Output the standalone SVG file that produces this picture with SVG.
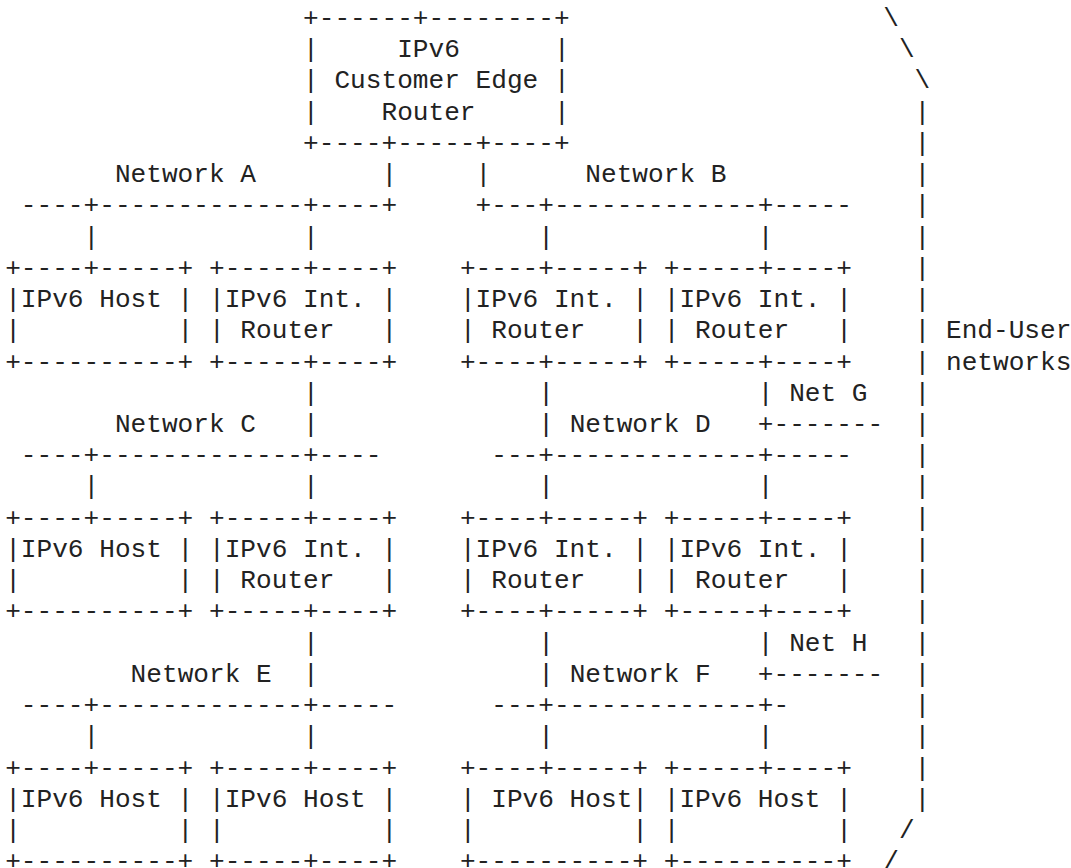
<svg xmlns="http://www.w3.org/2000/svg" width="1071" height="868" viewBox="0 0 1071 868" xml:space="preserve">
  <style>
    text { font-family: "Liberation Mono", "DejaVu Sans Mono", monospace; font-size: 26.13px; fill: #222; white-space: pre; }
  </style>
  <rect width="1071" height="868" fill="#fff"/>

  <!-- Customer edge router -->
  <g id="ce-router">
    <text><tspan x="303.08" y="26">+------+--------+</tspan><tspan x="303.08" y="57.23">|     IPv6      |</tspan><tspan x="303.08" y="88.46">| Customer Edge |</tspan><tspan x="303.08" y="119.69">|    Router     |</tspan><tspan x="303.08" y="150.92">+----+-----+----+</tspan></text>
  </g>

  <!-- Tier 1: networks A and B -->
  <g id="host-a">
    <text><tspan x="5.16" y="275.84">+----+-----+</tspan><tspan x="5.16" y="307.07">|IPv6 Host |</tspan><tspan x="5.16" y="338.3">|          |</tspan><tspan x="5.16" y="369.53">+----------+</tspan></text>
  </g>
  <g id="router-a">
    <text><tspan x="209" y="275.84">+-----+----+</tspan><tspan x="209" y="307.07">|IPv6 Int. |</tspan><tspan x="209" y="338.3">| Router   |</tspan><tspan x="209" y="369.53">+-----+----+</tspan></text>
  </g>
  <g id="router-b1">
    <text><tspan x="459.88" y="275.84">+----+-----+</tspan><tspan x="459.88" y="307.07">|IPv6 Int. |</tspan><tspan x="459.88" y="338.3">| Router   |</tspan><tspan x="459.88" y="369.53">+----+-----+</tspan></text>
  </g>
  <g id="router-b2">
    <text><tspan x="663.72" y="275.84">+-----+----+</tspan><tspan x="663.72" y="307.07">|IPv6 Int. |</tspan><tspan x="663.72" y="338.3">| Router   |</tspan><tspan x="663.72" y="369.53">+-----+----+</tspan></text>
  </g>

  <!-- Tier 2: networks C and D -->
  <g id="host-c">
    <text><tspan x="5.16" y="525.68">+----+-----+</tspan><tspan x="5.16" y="556.91">|IPv6 Host |</tspan><tspan x="5.16" y="588.14">|          |</tspan><tspan x="5.16" y="619.37">+----------+</tspan></text>
  </g>
  <g id="router-c">
    <text><tspan x="209" y="525.68">+-----+----+</tspan><tspan x="209" y="556.91">|IPv6 Int. |</tspan><tspan x="209" y="588.14">| Router   |</tspan><tspan x="209" y="619.37">+-----+----+</tspan></text>
  </g>
  <g id="router-d1">
    <text><tspan x="459.88" y="525.68">+----+-----+</tspan><tspan x="459.88" y="556.91">|IPv6 Int. |</tspan><tspan x="459.88" y="588.14">| Router   |</tspan><tspan x="459.88" y="619.37">+----+-----+</tspan></text>
  </g>
  <g id="router-d2">
    <text><tspan x="663.72" y="525.68">+-----+----+</tspan><tspan x="663.72" y="556.91">|IPv6 Int. |</tspan><tspan x="663.72" y="588.14">| Router   |</tspan><tspan x="663.72" y="619.37">+-----+----+</tspan></text>
  </g>

  <!-- Tier 3: networks E and F -->
  <g id="host-e1">
    <text><tspan x="5.16" y="775.52">+----+-----+</tspan><tspan x="5.16" y="806.75">|IPv6 Host |</tspan><tspan x="5.16" y="837.98">|          |</tspan><tspan x="5.16" y="869.21">+----------+</tspan></text>
  </g>
  <g id="host-e2">
    <text><tspan x="209" y="775.52">+-----+----+</tspan><tspan x="209" y="806.75">|IPv6 Host |</tspan><tspan x="209" y="837.98">|          |</tspan><tspan x="209" y="869.21">+-----+----+</tspan></text>
  </g>
  <g id="host-f1">
    <text><tspan x="459.88" y="775.52">+----+-----+</tspan><tspan x="459.88" y="806.75">| IPv6 Host|</tspan><tspan x="459.88" y="837.98">|          |</tspan><tspan x="459.88" y="869.21">+----------+</tspan></text>
  </g>
  <g id="host-f2">
    <text><tspan x="663.72" y="775.52">+-----+----+</tspan><tspan x="663.72" y="806.75">|IPv6 Host |</tspan><tspan x="663.72" y="837.98">|          |</tspan><tspan x="663.72" y="869.21">+----------+</tspan></text>
  </g>

  <!-- Links and network segments -->
  <g id="connectors">
    <text>
      <tspan x="381.48" y="182.15">|</tspan><tspan x="475.56" y="182.15">|</tspan>
      <tspan x="20.84" y="213.38">----+-------------+----+</tspan><tspan x="475.56" y="213.38">+---+-------------+-----</tspan>
      <tspan x="83.56" y="244.61">|</tspan><tspan x="303.08" y="244.61">|</tspan><tspan x="538.28" y="244.61">|</tspan><tspan x="757.8" y="244.61">|</tspan>

      <tspan x="303.08" y="400.76">|</tspan><tspan x="538.28" y="400.76">|</tspan><tspan x="757.8" y="400.76">|</tspan>
      <tspan x="303.08" y="431.99">|</tspan><tspan x="538.28" y="431.99">|</tspan><tspan x="757.8" y="431.99">+-------</tspan>
      <tspan x="20.84" y="463.22">----+-------------+----</tspan><tspan x="491.24" y="463.22">---+-------------+-----</tspan>
      <tspan x="83.56" y="494.45">|</tspan><tspan x="303.08" y="494.45">|</tspan><tspan x="538.28" y="494.45">|</tspan><tspan x="757.8" y="494.45">|</tspan>

      <tspan x="303.08" y="650.6">|</tspan><tspan x="538.28" y="650.6">|</tspan><tspan x="757.8" y="650.6">|</tspan>
      <tspan x="303.08" y="681.83">|</tspan><tspan x="538.28" y="681.83">|</tspan><tspan x="757.8" y="681.83">+-------</tspan>
      <tspan x="20.84" y="713.06">----+-------------+-----</tspan><tspan x="491.24" y="713.06">---+-------------+-</tspan>
      <tspan x="83.56" y="744.29">|</tspan><tspan x="303.08" y="744.29">|</tspan><tspan x="538.28" y="744.29">|</tspan><tspan x="757.8" y="744.29">|</tspan>
    </text>
  </g>

  <!-- Bracket around the end-user networks -->
  <g id="end-user-bracket">
    <text>
      <tspan x="883.24" y="26">\</tspan><tspan x="898.92" y="57.23">\</tspan><tspan x="914.6" y="88.46">\</tspan>
      <tspan x="914.6" y="119.69">|</tspan><tspan x="914.6" y="150.92">|</tspan><tspan x="914.6" y="182.15">|</tspan><tspan x="914.6" y="213.38">|</tspan>
      <tspan x="914.6" y="244.61">|</tspan><tspan x="914.6" y="275.84">|</tspan><tspan x="914.6" y="307.07">|</tspan><tspan x="914.6" y="338.3">|</tspan>
      <tspan x="914.6" y="369.53">|</tspan><tspan x="914.6" y="400.76">|</tspan><tspan x="914.6" y="431.99">|</tspan><tspan x="914.6" y="463.22">|</tspan>
      <tspan x="914.6" y="494.45">|</tspan><tspan x="914.6" y="525.68">|</tspan><tspan x="914.6" y="556.91">|</tspan><tspan x="914.6" y="588.14">|</tspan>
      <tspan x="914.6" y="619.37">|</tspan><tspan x="914.6" y="650.6">|</tspan><tspan x="914.6" y="681.83">|</tspan><tspan x="914.6" y="713.06">|</tspan>
      <tspan x="914.6" y="744.29">|</tspan><tspan x="914.6" y="775.52">|</tspan><tspan x="914.6" y="806.75">|</tspan>
      <tspan x="898.92" y="837.98">/</tspan><tspan x="883.24" y="869.21">/</tspan>
    </text>
  </g>

  <!-- Segment and region labels -->
  <g id="labels">
    <text x="114.92" y="182.15">Network A</text>
    <text x="585.32" y="182.15">Network B</text>
    <text x="114.92" y="431.99">Network C</text>
    <text x="569.64" y="431.99">Network D</text>
    <text x="130.6" y="681.83">Network E</text>
    <text x="569.64" y="681.83">Network F</text>
    <text x="789.16" y="400.76">Net G</text>
    <text x="789.16" y="650.6">Net H</text>
    <text x="945.96" y="338.3">End-User</text>
    <text x="945.96" y="369.53">networks</text>
  </g>
</svg>
